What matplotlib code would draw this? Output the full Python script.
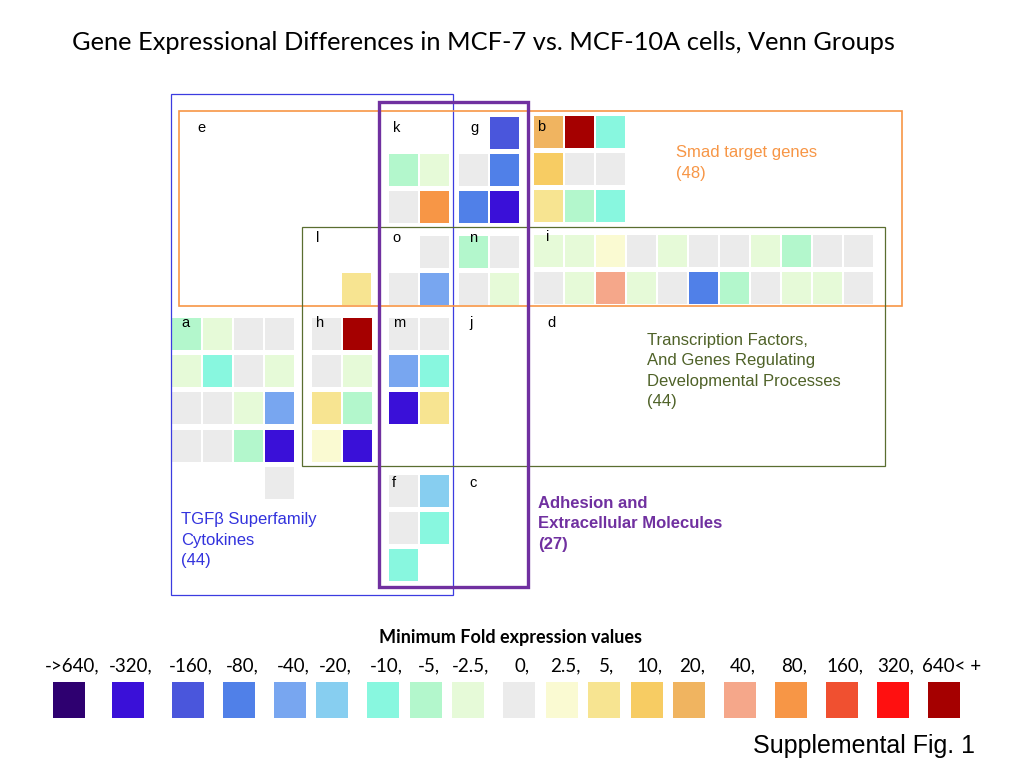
import matplotlib.pyplot as plt
from matplotlib.patches import Rectangle

# fold change levels and their colours (legend)
fold_levels = [-640, -320, -160, -80, -40, -20, -10, -5, -2.5, 0,
               2.5, 5, 10, 20, 40, 80, 160, 320, 640]
fold_labels = ["->640", "-320", "-160", "-80", "-40", "-20", "-10", "-5", "-2.5", "0",
               "2.5", "5", "10", "20", "40", "80", "160", "320", "640< +"]
fold_colors = ["#2e0070", "#3a10d8", "#4a56dc", "#5080e8", "#78a6f0", "#87cef0",
               "#88f7df", "#b3f7cc", "#e6fad8", "#ebebeb", "#fafad2", "#f7e491",
               "#f7cc63", "#f0b460", "#f5a78a", "#f79646", "#f05030", "#ff1010", "#a50000"]

# Venn group cells (fold values by row), None = empty slot
group_a = [[-5, -2.5, 0, 0], [-2.5, -10, 0, -2.5], [0, 0, -2.5, -40],
           [0, 0, -5, -320], [None, None, None, 0]]
group_b = [[20, 640, -10], [10, 0, 0], [5, -5, -10]]
group_f = [[0, -20], [0, -10], [-10, None]]
group_g = [[None, -160], [0, -80], [-80, -320]]
group_h = [[0, 640], [0, -2.5], [5, -5], [2.5, -320]]
group_i = [[-2.5, -2.5, 2.5, 0, -2.5, 0, 0, -2.5, -5, 0, 0],
           [0, -2.5, 40, -2.5, 0, -80, -5, 0, -2.5, -2.5, 0]]
group_k = [[None, None], [-5, -2.5], [0, 80]]
group_l = [[None], [5]]
group_m = [[0, 0], [-40, -10], [-320, 5]]
group_n = [[-5, 0], [0, -2.5]]
group_o = [[None, 0], [0, -40]]

# layout (pixel coordinates, y downwards)
cells = [(group_a, 172, 318), (group_b, 534, 116), (group_f, 389, 475),
         (group_g, 459, 117), (group_h, 312, 318), (group_i, 534, 235),
         (group_k, 389, 117), (group_l, 342, 236), (group_m, 389, 318),
         (group_n, 459, 236), (group_o, 389, 236)]
cw, ch, dx, dy = 29, 32, 31, 37.2

letters = [("e", 197, 128), ("k", 393, 128), ("g", 470, 128), ("b", 537, 127),
           ("l", 316, 238), ("o", 392, 238), ("n", 469, 238), ("i", 546, 237),
           ("a", 181, 323), ("h", 316, 323), ("m", 393, 323), ("j", 469, 323),
           ("d", 547, 323), ("f", 392, 483), ("c", 469, 483)]

color_of = dict(zip(fold_levels, fold_colors))

fig = plt.figure(figsize=(10.2, 7.65), dpi=100)
ax = fig.add_axes([0, 0, 1, 1])
ax.set_xlim(0, 1020)
ax.set_ylim(765, 0)
ax.axis('off')

for grid, x0, y0 in cells:
    for r, row in enumerate(grid):
        for c, v in enumerate(row):
            if v is None:
                continue
            ax.add_patch(Rectangle((x0 + c*dx, y0 + r*dy), cw, ch,
                                   facecolor=color_of[v], edgecolor='none', zorder=2))

arial = "Liberation Sans"
for s, x, y in letters:
    ax.text(x, y, s, fontsize=10.5, family=arial, ha='left', va='center', zorder=5)

# group boxes
ax.add_patch(Rectangle((171, 94), 282, 501, fill=False, edgecolor="#3c3ce0", lw=0.9, zorder=3))
ax.add_patch(Rectangle((179, 111), 723, 195, fill=False, edgecolor="#f79646", lw=1.2, zorder=3))
ax.add_patch(Rectangle((302, 227), 583, 239, fill=False, edgecolor="#5a6e30", lw=0.9, zorder=3))
ax.add_patch(Rectangle((379, 102), 149, 485, fill=False, edgecolor="#7030a0", lw=2.4, zorder=4))

# group titles
ls = 1.42
ax.text(676, 163, "Smad target genes\n(48)", color="#f79646", fontsize=12,
        family=arial, ha='left', va='center', linespacing=ls)
ax.text(647, 371, "Transcription Factors,\nAnd Genes Regulating\nDevelopmental Processes\n(44)",
        color="#4f6228", fontsize=12, family=arial, ha='left', va='center', linespacing=ls)
ax.text(538, 524, "Adhesion and\nExtracellular Molecules\n(27)", color="#7030a0",
        fontsize=12, family=arial, weight='bold', ha='left', va='center', linespacing=ls)
ax.text(181, 540, "TGF\u03b2 Superfamily\nCytokines\n(44)", color="#3333dd",
        fontsize=12, family=arial, ha='left', va='center', linespacing=ls)

# title
ax.text(483, 42, "Gene Expressional Differences in MCF-7 vs. MCF-10A cells, Venn Groups",
        fontsize=18.3, family="Lato", ha='center', va='center')

# legend
leg_x = [69, 128, 188, 239, 290, 332, 383, 426, 468, 519,
         562, 604, 647, 689, 740, 791, 842, 893, 944]
ax.text(511, 638, "Minimum Fold expression values", fontsize=13, family="Lato",
        weight='bold', ha='center', va='center')
for i, (lab, col) in enumerate(zip(fold_labels, fold_colors)):
    ax.add_patch(Rectangle((leg_x[i] - 16, 682), 32, 36, facecolor=col, edgecolor='none'))
    txt = lab if i == len(fold_labels) - 1 else lab + ","
    ax.text(leg_x[i] + (8 if i == len(fold_labels) - 1 else 3), 666, txt,
            fontsize=13.5, family="Lato", ha='center', va='center')

ax.text(975, 746, "Supplemental Fig. 1", fontsize=18, family=arial, ha='right', va='center')

fig.savefig("out.png", dpi=100)
